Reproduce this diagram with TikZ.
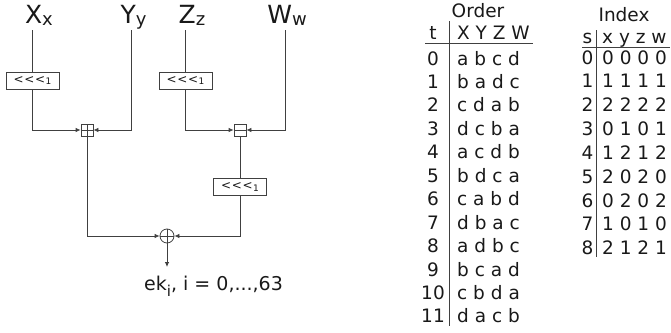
\documentclass[tikz,border=0pt]{standalone}
\usepackage{fontspec}
\setmainfont{DejaVu Sans}
\usetikzlibrary{arrows.meta}

\newcommand\wirelabel[2]{{\fontsize{25}{30}\selectfont #1}\raisebox{-2pt}{\fontsize{18}{20}\selectfont #2}}
\newcommand\rotl{<\kern0.6pt<\kern0.6pt<\kern0.5pt\raisebox{-1.5pt}{\fontsize{9}{10}\selectfont 1}}

\begin{document}
\begin{tikzpicture}[
    x=1pt, y=-1pt,
    >={Latex[length=5pt,width=4.5pt]},
    every node/.style={text=black!90, font=\fontsize{18.5}{22}\selectfont},
    wire/.style={draw=black!75, line width=0.8pt},
    rotbox/.style={draw=black!75, line width=0.9pt, minimum width=53pt,
        minimum height=17pt, inner sep=0pt, font=\fontsize{12}{14}\selectfont},
    opbox/.style={draw=black!75, line width=0.8pt, minimum size=12pt, inner sep=0pt},
    addbox/.style={opbox, path picture={\draw[black!75, line width=0.8pt]
        (path picture bounding box.north) -- (path picture bounding box.south)
        (path picture bounding box.west) -- (path picture bounding box.east);}},
    subbox/.style={opbox, path picture={\draw[black!75, line width=0.8pt]
        (path picture bounding box.west) -- (path picture bounding box.east);}},
    xorop/.style={opbox, circle, minimum size=14pt, path picture={\draw[black!75, line width=0.8pt]
        (path picture bounding box.north) -- (path picture bounding box.south)
        (path picture bounding box.west) -- (path picture bounding box.east);}},
    cell/.style={anchor=base west, inner sep=0pt},
]

\useasboundingbox (0,0) rectangle (671,332);

% ============================================================
% KEY SCHEDULE
% ============================================================
\node[anchor=base] (xlab) at (39,23)    {\wirelabel{X}{x}};
\node[anchor=base] (ylab) at (133.5,23) {\wirelabel{Y}{y}};
\node[anchor=base] (zlab) at (192,23)   {\wirelabel{Z}{z}};
\node[anchor=base] (wlab) at (287,23)   {\wirelabel{W}{w}};

\coordinate (xtop) at (32.5,30);
\coordinate (ytop) at (131,30);
\coordinate (ztop) at (185.5,30);
\coordinate (wtop) at (285,30);

\node[rotbox] (rotx) at (32.5,80.5) {\rotl};
\node[rotbox] (rotz) at (185.5,80.5) {\rotl};
\node[addbox] (add) at (87,130) {};
\node[subbox] (sub) at (240,130) {};
\node[rotbox] (rotd) at (240,187) {\rotl};
\node[xorop] (xor) at (167,236) {};
\coordinate (ekend) at (167,267);

\node[cell, font=\fontsize{19}{22}\selectfont] (ek) at (144,290)
    {ek\raisebox{-6pt}{\fontsize{15}{18}\selectfont i}, i = 0,...,63};

% Wires
\draw[wire] (xtop) -- (rotx);
\draw[wire,->] (rotx) |- (add);
\draw[wire,->] (ytop) |- (add);
\draw[wire] (ztop) -- (rotz);
\draw[wire,->] (rotz) |- (sub);
\draw[wire,->] (wtop) |- (sub);
\draw[wire] (sub) -- (rotd);
\draw[wire,->] (rotd) |- (xor);
\draw[wire,->] (add) |- (xor);
\draw[wire,->] (xor) -- (ekend);

% ============================================================
% ORDER TABLE
% ============================================================
\node[anchor=base] (ordtitle) at (478,17) {Order};
\node[anchor=base] (ordt) at (433,39) {t};
\node[cell] (ordhead) at (457,39) {X Y Z W};
\foreach \t/\seq in {0/a b c d, 1/b a d c, 2/c d a b, 3/d c b a, 4/a c d b,
        5/b d c a, 6/c a b d, 7/d b a c, 8/a d b c, 9/b c a d, 10/c b d a, 11/d a c b} {
    \node[anchor=base] (ordn-\t) at (433,{65+23.45*\t}) {\t};
    \node[cell] (ord-\t) at (457,{65+23.45*\t}) {\seq};
}
\draw[wire] (425,43) -- (533,43);
\draw[wire] (449,21) -- (449,326);

% ============================================================
% INDEX TABLE
% ============================================================
\node[anchor=base] (idxtitle) at (624,21) {Index};
\node[anchor=base] (idxs) at (587.5,43) {s};
\node[cell] (idxhead) at (602,43) {x y z w};
\foreach \s/\seq in {0/0 0 0 0, 1/1 1 1 1, 2/2 2 2 2, 3/0 1 0 1, 4/1 2 1 2,
        5/2 0 2 0, 6/0 2 0 2, 7/1 0 1 0, 8/2 1 2 1} {
    \node[anchor=base] (idxn-\s) at (587.5,{64+23.85*\s}) {\s};
    \node[cell] (idx-\s) at (602,{64+23.85*\s}) {\seq};
}
\draw[wire] (582,47) -- (670,47);
\draw[wire] (596,30) -- (596,257);

\end{tikzpicture}
\end{document}
